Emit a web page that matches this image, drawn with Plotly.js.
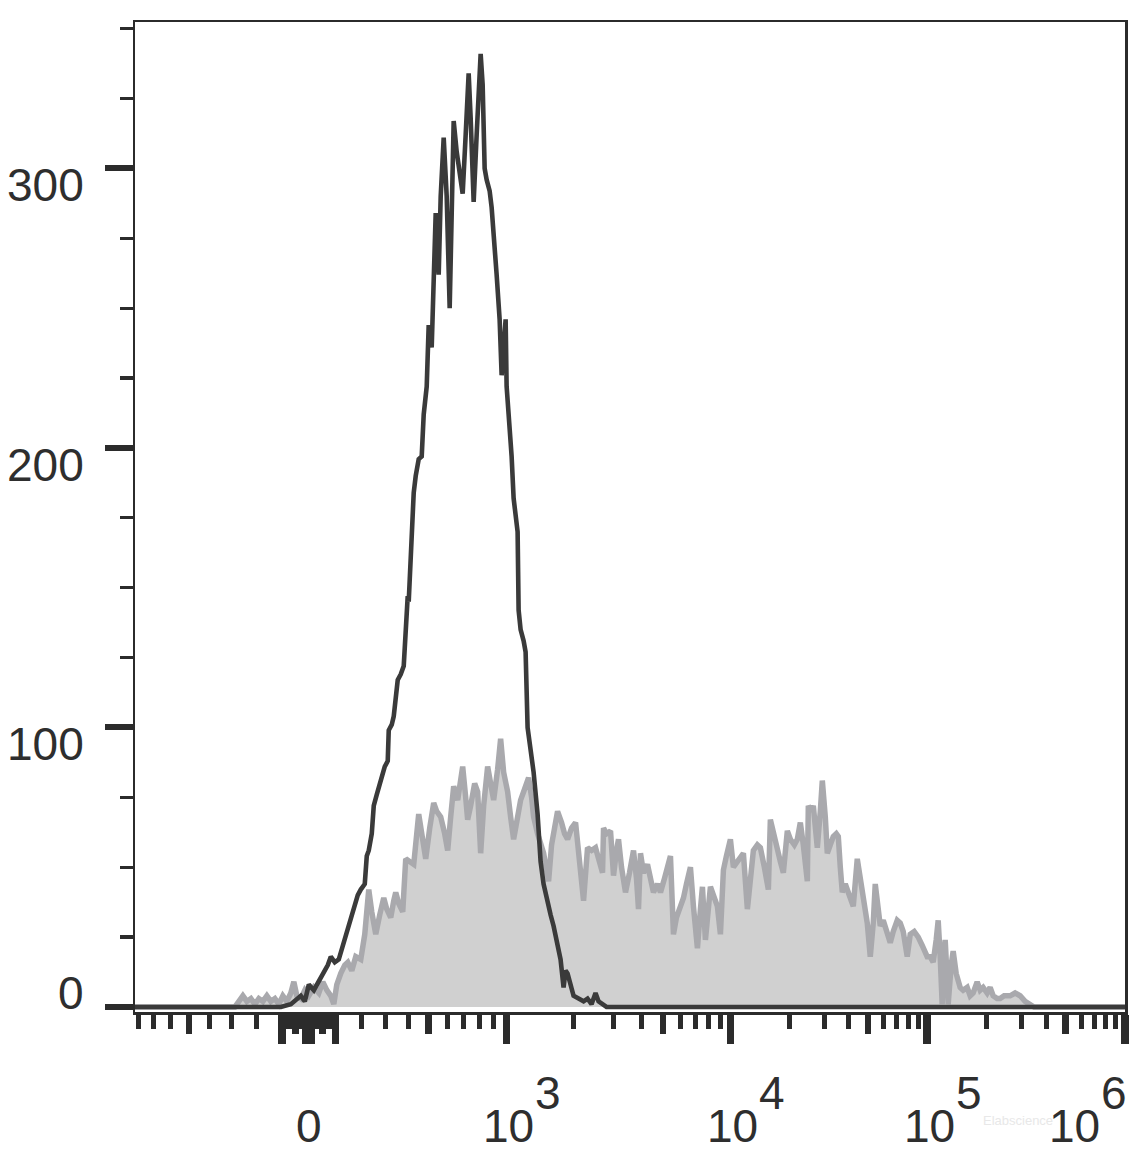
<!DOCTYPE html>
<html><head><meta charset="utf-8">
<script src="https://cdn.plot.ly/plotly-3.0.1.min.js"></script>
<style>html,body{margin:0;padding:0;background:#fff}#chart{width:1148px;height:1154px}</style>
</head><body><div id="chart"></div>
<script>
// Histogram bins on the biexponential display scale (display units, 0 = value 0)
const unstainedPos = [-174,-28,-18,-12,-8,-4,0,5,10,15,19,22,26,30,34,37,41,45,49,52,56,58,60,63,65,68,72,76,79,80,83,85,89,92,95,97,99,100,102,104,105,107,110,113,115,118,120,123,125,127,130,132,135,138,141,143,145,148,151,154,157,160,162,165,168,170,172,174,176,178,181,183,185,188,191,193,195,197,198,200,203,205,207,209,210,212,215,217,219,222,225,229,232,235,239,242,245,249,252,255,257,259,262,265,270,275,279,283,287,290,294,298,817];
const unstainedCount = [0,0,1,3,4,2,8,6,9,12,15,18,16,17,22,26,31,36,40,42,44,54,56,62,72,76,81,86,88,99,101,104,117,119,122,133,147,145,162,174,184,190,196,197,212,222,244,236,258,284,262,290,311,290,250,280,317,306,297,291,312,334,318,288,312,330,341,330,300,296,292,286,274,262,246,226,236,246,222,213,197,182,175,170,142,135,131,127,100,92,84,69,52,44,37,33,29,23,17,7,13,12,8,4,3,2,3,1,5,2,1,0,0];

const stainedPos = [-174,-74,-70,-66,-62,-58,-54,-50,-46,-42,-38,-34,-30,-26,-22,-18,-15,-12,-8,-4,0,5,10,14,18,22,25,28,32,36,39,43,47,52,56,60,63,67,71,75,78,82,85,87,90,94,97,101,105,110,113,117,121,125,128,132,136,139,142,145,149,151,154,157,159,162,166,169,172,175,179,182,185,189,192,195,199,202,205,209,212,216,220,223,225,229,232,235,240,243,246,249,253,256,259,263,267,271,275,279,283,287,291,294,295,298,302,305,308,310,313,317,321,325,328,330,332,335,339,342,345,349,352,356,359,362,365,368,372,375,378,382,385,389,392,394,397,400,402,405,409,412,415,418,422,425,429,432,435,439,442,445,449,452,456,460,462,465,469,472,475,479,482,486,489,492,495,499,500,503,505,507,509,512,514,517,519,522,525,528,530,532,534,537,539,542,545,549,552,555,559,562,565,567,570,572,575,579,582,585,589,592,595,599,602,606,610,614,619,622,625,628,630,632,634,636,637,639,640,643,645,648,652,655,659,662,665,669,672,675,679,682,685,689,692,696,702,707,712,717,722,726,817];
const stainedCount = [0,0,2,4,2,3,1,3,2,4,2,3,1,4,2,5,9,4,3,6,4,7,5,9,6,4,1,8,12,15,16,13,18,17,26,42,34,26,33,39,35,32,38,41,37,34,53,52,51,69,62,53,64,73,70,68,62,56,68,79,74,78,86,75,67,72,80,77,55,72,86,80,74,85,96,84,77,68,60,68,74,78,82,75,68,62,58,55,45,58,64,70,66,62,60,64,66,52,38,57,56,57,52,48,64,62,63,47,56,60,50,41,48,56,46,35,55,48,51,46,41,44,41,46,50,54,26,32,36,39,44,50,36,21,35,43,24,38,43,40,36,26,49,54,60,50,52,54,55,35,48,56,58,57,50,42,67,62,56,52,48,63,60,58,60,66,58,45,72,70,72,65,57,70,81,68,55,58,61,62,61,50,41,44,42,39,36,53,46,38,30,18,30,44,36,29,31,27,23,27,31,30,27,18,26,27,25,22,18,18,16,24,31,18,1,20,24,10,1,15,20,12,7,6,7,4,5,9,6,7,5,7,4,3,3,4,4,5,4,2,1,0,0];

// Axis tick values (fluorescence values) and labels
const majorTickValues = [-100,-10,0,10,100,1e3,1e4,1e5,1e6];
const mediumTickValues = [-500,-50,50,500,5e3,5e4,5e5];
const minorTickValues = [-800,-700,-600,-400,-300,-200,-90,-80,-70,-60,-40,-30,-20,20,30,40,60,70,80,90,200,300,400,600,700,800,900,
  2e3,3e3,4e3,6e3,7e3,8e3,9e3,2e4,3e4,4e4,6e4,7e4,8e4,9e4,2e5,3e5,4e5,6e5,7e5,8e5,9e5];
const xLabelValues = [0,1e3,1e4,1e5,1e6];
const xLabelBase = ['0','10','10','10','10'];
const xLabelExp = ['','3','4','5','6'];
const yLabelValues = [0,100,200,300];

// biexponential-like display transform: value -> display units
const LIN_A = 140, LIN_C = 518;
const decadeAnchors = [[1e3,198],[1e4,422],[1e5,619],[1e6,817]];
function disp(v){
  const s = Math.sign(v), a = Math.abs(v);
  if (a <= 1000) return s*LIN_A*Math.asinh(a/LIN_C);
  for (let i=0;i<decadeAnchors.length-1;i++){
    const [v0,p0] = decadeAnchors[i], [v1,p1] = decadeAnchors[i+1];
    if (a <= v1) return s*(p0 + (Math.log10(a)-Math.log10(v0))/(Math.log10(v1)-Math.log10(v0))*(p1-p0));
  }
  return s*decadeAnchors[decadeAnchors.length-1][1];
}

const XR = [-174, 817];
const YR = [-1.8, 352.4];
const ink = '#2b2b2b';
const labelFont = {family:'Liberation Sans, Arial, sans-serif', size:46, color:'#2e2e2e'};

const traces = [
  {x: stainedPos, y: stainedCount, type:'scatter', mode:'lines', fill:'tozeroy',
   fillcolor:'#d0d0d0', line:{color:'#a9a9ad', width:5.5}, hoverinfo:'skip', showlegend:false},
  {x: unstainedPos, y: unstainedCount, type:'scatter', mode:'lines',
   line:{color:'#3a3a3a', width:4.6}, hoverinfo:'skip', showlegend:false},
  {x:[null], y:[null], xaxis:'x2', yaxis:'y', type:'scatter', mode:'markers', hoverinfo:'skip', showlegend:false}
];

const annotations = [];
yLabelValues.forEach(v => {
  annotations.push({xref:'paper', x:0, xanchor:'right', xshift:-49, yref:'y', y:v, yanchor:'middle',
    yshift: v===0 ? 14 : -17, text:String(v), showarrow:false, font:labelFont});
});
xLabelValues.forEach((v,i) => {
  const xs = (i === xLabelValues.length-1) ? -51 : (i === 0 ? 0 : 2);
  annotations.push({xref:'x', x:disp(v), xanchor:'center', xshift:xs, yref:'paper', y:0, yanchor:'middle',
    yshift:-114, text:xLabelBase[i], showarrow:false, font:labelFont});
  if (xLabelExp[i]) {
    annotations.push({xref:'x', x:disp(v), xanchor:'left', xshift:xs+25, yref:'paper', y:0, yanchor:'middle',
      yshift:-81, text:xLabelExp[i], showarrow:false, font:labelFont});
  }
});
// faint watermark
annotations.push({xref:'x', x:710, xanchor:'center', yref:'paper', y:0, yanchor:'middle', yshift:-108,
  text:'Elabscience', showarrow:false, font:{family:'Liberation Sans, Arial, sans-serif', size:13, color:'#e8e8e8'}});

const layout = {
  width:1148, height:1154,
  margin:{l:135, r:23, t:22, b:142, pad:0},
  paper_bgcolor:'#ffffff', plot_bgcolor:'#ffffff',
  showlegend:false,
  xaxis:{range:XR, tickmode:'array', tickvals:majorTickValues.map(disp), ticks:'outside',
    ticklen:29, tickwidth:7.5, tickcolor:ink, showticklabels:false, showline:true, linecolor:ink,
    linewidth:2.5, mirror:true, showgrid:false, zeroline:false, fixedrange:true,
    minor:{tickmode:'array', tickvals:minorTickValues.map(disp), ticks:'outside', ticklen:14, tickwidth:5,
      tickcolor:ink, showgrid:false}},
  xaxis2:{range:XR, overlaying:'x', anchor:'y', side:'bottom', tickmode:'array',
    tickvals:mediumTickValues.map(disp), ticks:'outside', ticklen:21, tickwidth:6.5, tickcolor:ink,
    showticklabels:false, showline:false, showgrid:false, zeroline:false, fixedrange:true},
  yaxis:{range:YR, tickmode:'linear', tick0:0, dtick:100, ticks:'outside', ticklen:28, tickwidth:6,
    tickcolor:ink, showticklabels:false, showline:true, linecolor:ink, linewidth:2.5, mirror:true,
    showgrid:false, zeroline:false, fixedrange:true,
    minor:{tickmode:'linear', tick0:0, dtick:25, ticks:'outside', ticklen:13, tickwidth:3.3, tickcolor:ink, showgrid:false}},
  annotations: annotations
};

Plotly.newPlot('chart', traces, layout, {displayModeBar:false, staticPlot:true});
</script></body></html>
